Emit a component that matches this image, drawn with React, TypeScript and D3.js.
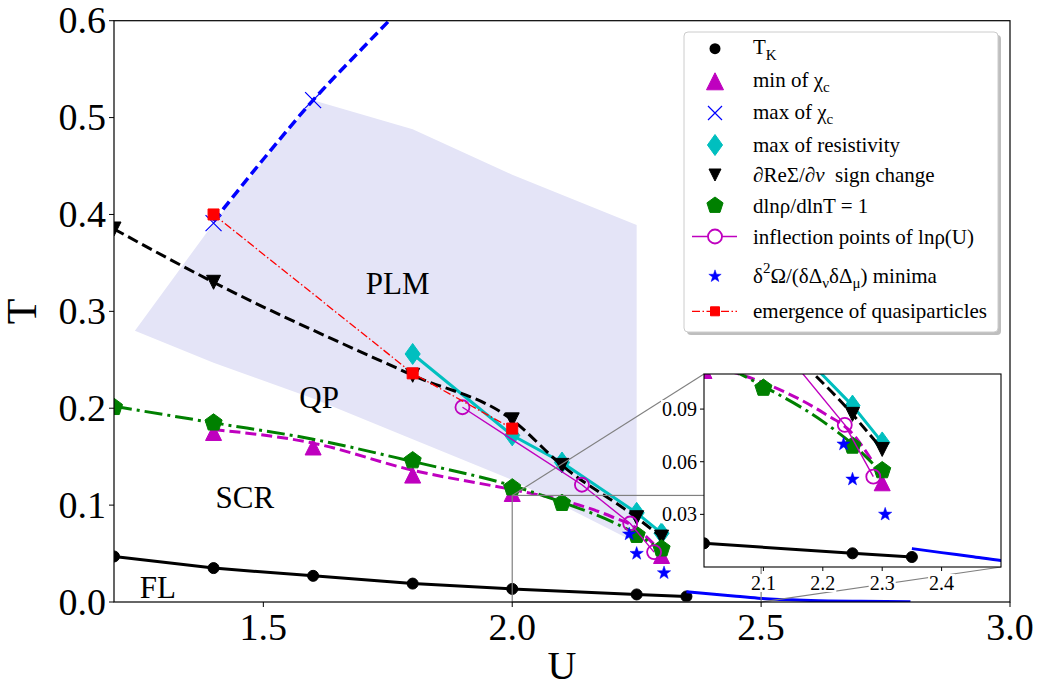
import React from 'react';
import * as d3 from 'd3';

// ---------------- data ----------------
// Kondo temperature T_K
const U_TK = [1.2, 1.4, 1.6, 1.8, 2.0, 2.25, 2.35];
const T_TK = [0.047, 0.035, 0.027, 0.019, 0.0135, 0.0078, 0.0057];
// continuation of T_K (blue solid)
const U_TK_HIGH = [2.35, 2.4, 2.45, 2.5, 2.6, 2.7, 2.8];
const T_TK_HIGH = [0.0105, 0.0082, 0.006, 0.0037, 0.0016, 0.0007, 0.0002];
// min of chi_c
const U_MINCHI = [1.4, 1.6, 1.8, 2.0, 2.3];
const T_MINCHI = [0.175, 0.16, 0.131, 0.112, 0.048];
const U_MINCHI_FIT = [1.4, 1.6, 1.8, 2.0, 2.1, 2.2, 2.25, 2.284];
const T_MINCHI_FIT = [0.178, 0.164, 0.136, 0.116, 0.105, 0.088, 0.076, 0.06];
// max of chi_c
const U_MAXCHI = [1.4, 1.6];
const T_MAXCHI = [0.391, 0.518];
const U_MAXCHI_FIT = [1.4, 1.5, 1.6, 1.7, 1.8];
const T_MAXCHI_FIT = [0.393, 0.457, 0.518, 0.572, 0.625];
// max of resistivity
const U_RES = [1.8, 2.0, 2.1, 2.25, 2.3];
const T_RES = [0.256, 0.172, 0.144, 0.092, 0.071];
// dReSigma/dnu sign change
const U_RESIG = [1.2, 1.4, 1.8, 2.0, 2.1, 2.25, 2.3];
const T_RESIG = [0.385, 0.33, 0.234, 0.188, 0.141, 0.087, 0.067];
// dln rho / dln T = 1
const U_DLN = [1.2, 1.4, 1.8, 2.0, 2.1, 2.25, 2.3];
const T_DLN = [0.201, 0.185, 0.146, 0.118, 0.102, 0.069, 0.055];
const U_DLN_FIT = [1.2, 1.4, 1.6, 1.8, 2.0, 2.1, 2.2, 2.25, 2.284];
const T_DLN_FIT = [0.202, 0.185, 0.168, 0.145, 0.12, 0.103, 0.083, 0.07, 0.059];
// inflection points of ln rho(U)
const U_INFL = [1.9, 2.14, 2.237, 2.285];
const T_INFL = [0.201, 0.121, 0.081, 0.0515];
// second derivative of Omega minima
const U_STAR = [2.235, 2.25, 2.305];
const T_STAR = [0.07, 0.05, 0.03];
// emergence of quasiparticles
const U_QP = [1.4, 1.8, 2.0];
const T_QP = [0.4, 0.236, 0.179];
// PLM shaded region outline
const U_PLM = [1.4, 1.6, 1.8, 2.0, 2.25, 2.25, 2.0, 1.8, 1.6, 1.4, 1.242];
const T_PLM = [0.391, 0.518, 0.488, 0.441, 0.389, 0.061, 0.126, 0.168, 0.21, 0.247, 0.28];
// region labels
const REGION_NAMES = ['PLM', 'QP', 'SCR', 'FL'];
const REGION_U = [1.77, 1.612, 1.463, 1.288];
const REGION_T = [0.318, 0.2, 0.097, 0.004];
// ticks
const X_TICKS = [1.5, 2.0, 2.5, 3.0];
const Y_TICKS = [0, 0.1, 0.2, 0.3, 0.4, 0.5, 0.6];
const X_TICKS_IN = [2.1, 2.2, 2.3, 2.4];
const Y_TICKS_IN = [0.03, 0.06, 0.09];

// ---------------- layout ----------------
const W = 1044;
const H = 688;
const FONT = '"Liberation Serif", "Times New Roman", Times, serif';
const M = { left: 114, right: 1010, top: 20.7, bottom: 602 };
const INS = { left: 704, right: 1001, top: 374, bottom: 567 };

const MAG = '#bf00bf';
const CYA = '#00bfbf';
const GRN = '#008000';
const BLU = '#0000ff';
const RED = '#ff0000';

type Scale = d3.ScaleLinear<number, number>;

function markerPath(kind: string, s: number): string {
  const h = s / 2;
  switch (kind) {
    case 'o':
      return `M${h},0A${h},${h} 0 1,1 ${-h},0A${h},${h} 0 1,1 ${h},0Z`;
    case '^':
      return `M0,${-h}L${h},${h}L${-h},${h}Z`;
    case 'v':
      return `M0,${h}L${h},${-h}L${-h},${-h}Z`;
    case 'd':
      return `M0,${-h}L${0.36 * s},0L0,${h}L${-0.36 * s},0Z`;
    case 'p': {
      const pts = d3.range(5).map((k) => {
        const a = ((-90 + k * 72) * Math.PI) / 180;
        return [h * Math.cos(a), h * Math.sin(a)];
      });
      return 'M' + pts.map((p) => p.join(',')).join('L') + 'Z';
    }
    case '*': {
      const pts = d3.range(10).map((k) => {
        const a = ((-90 + k * 36) * Math.PI) / 180;
        const r = k % 2 === 0 ? h : h * 0.4;
        return [r * Math.cos(a), r * Math.sin(a)];
      });
      return 'M' + pts.map((p) => p.join(',')).join('L') + 'Z';
    }
    case 's':
      return `M${-h},${-h}H${h}V${h}H${-h}Z`;
    case 'x':
      return `M${-h},${-h}L${h},${h}M${-h},${h}L${h},${-h}`;
    default:
      return '';
  }
}

function linePath(U: number[], T: number[], xs: Scale, ys: Scale, curve: d3.CurveFactory = d3.curveLinear) {
  return (
    d3
      .line<[number, number]>()
      .x((d) => xs(d[0]))
      .y((d) => ys(d[1]))
      .curve(curve)(U.map((u, i) => [u, T[i]] as [number, number])) || ''
  );
}

type MarkProps = {
  U: number[];
  T: number[];
  xs: Scale;
  ys: Scale;
  kind: string;
  size: number;
  fill: string;
  stroke: string;
  sw?: number;
};

function Markers({ U, T, xs, ys, kind, size, fill, stroke, sw = 1 }: MarkProps) {
  const d = markerPath(kind, size);
  return (
    <g>
      {U.map((u, i) => (
        <path key={i} d={d} transform={`translate(${xs(u)},${ys(T[i])})`} fill={fill} stroke={stroke} strokeWidth={sw} />
      ))}
    </g>
  );
}

function Content({ xs, ys }: { xs: Scale; ys: Scale }) {
  const smooth = d3.curveMonotoneX;
  return (
    <g>
      {/* T_K */}
      <path d={linePath(U_TK, T_TK, xs, ys)} fill="none" stroke="#000" strokeWidth={3} />
      <Markers U={U_TK} T={T_TK} xs={xs} ys={ys} kind="o" size={11} fill="#000" stroke="#000" />
      <path d={linePath(U_TK_HIGH, T_TK_HIGH, xs, ys, smooth)} fill="none" stroke={BLU} strokeWidth={3} />
      {/* min chi_c */}
      <path d={linePath(U_MINCHI_FIT, T_MINCHI_FIT, xs, ys, smooth)} fill="none" stroke={MAG} strokeWidth={3} strokeDasharray="11,5" />
      <Markers U={U_MINCHI} T={T_MINCHI} xs={xs} ys={ys} kind="^" size={16} fill={MAG} stroke={MAG} />
      {/* max chi_c */}
      <path d={linePath(U_MAXCHI_FIT, T_MAXCHI_FIT, xs, ys, smooth)} fill="none" stroke={BLU} strokeWidth={3.5} strokeDasharray="10,5" />
      <Markers U={U_MAXCHI} T={T_MAXCHI} xs={xs} ys={ys} kind="x" size={16} fill="none" stroke={BLU} sw={1.2} />
      {/* max resistivity */}
      <path d={linePath(U_RES, T_RES, xs, ys)} fill="none" stroke={CYA} strokeWidth={3} />
      <Markers U={U_RES} T={T_RES} xs={xs} ys={ys} kind="d" size={21} fill={CYA} stroke={CYA} />
      {/* ReSigma */}
      <path d={linePath(U_RESIG, T_RESIG, xs, ys, smooth)} fill="none" stroke="#000" strokeWidth={3} strokeDasharray="11,5" />
      <Markers U={U_RESIG} T={T_RESIG} xs={xs} ys={ys} kind="v" size={14} fill="#000" stroke="#000" />
      {/* dln rho / dln T */}
      <path d={linePath(U_DLN_FIT, T_DLN_FIT, xs, ys, smooth)} fill="none" stroke={GRN} strokeWidth={3} strokeDasharray="18,5,3,5" />
      <Markers U={U_DLN} T={T_DLN} xs={xs} ys={ys} kind="p" size={18} fill={GRN} stroke={GRN} />
      {/* inflection */}
      <path d={linePath(U_INFL, T_INFL, xs, ys)} fill="none" stroke={MAG} strokeWidth={1.4} />
      <Markers U={U_INFL} T={T_INFL} xs={xs} ys={ys} kind="o" size={14} fill="none" stroke={MAG} sw={1.8} />
      {/* stars */}
      <Markers U={U_STAR} T={T_STAR} xs={xs} ys={ys} kind="*" size={14} fill={BLU} stroke={BLU} sw={0.5} />
      {/* emergence of quasiparticles */}
      <path d={linePath(U_QP, T_QP, xs, ys)} fill="none" stroke={RED} strokeWidth={1.3} strokeDasharray="8,2.5,1.5,2.5" />
      <Markers U={U_QP} T={T_QP} xs={xs} ys={ys} kind="s" size={11} fill={RED} stroke={RED} />
    </g>
  );
}

function textWidth(s: string, fs: number) {
  let w = 0;
  for (const c of s) w += c === '.' ? 0.25 : 0.5;
  return w * fs;
}

function Legend() {
  const left = 684;
  const top = 32;
  const right = 998;
  const bottom = 332;
  const mx = 715;
  const tx = 753;
  const fs = 21;
  const sub = 15;
  const rows = [48.7, 81.3, 113, 145, 175, 205.5, 236.5, 276.3, 311.3];
  const base = (r: number) => r + 7;
  return (
    <g fontFamily={FONT} fontSize={fs} fill="#000">
      <rect x={left + 3} y={top + 3} width={right - left} height={bottom - top} rx={4} fill="#888" opacity={0.55} />
      <rect x={left} y={top} width={right - left} height={bottom - top} rx={4} fill="#fff" stroke="#cccccc" strokeWidth={1} />
      {/* handles */}
      <path d={markerPath('o', 11)} transform={`translate(${mx},${rows[0]})`} fill="#000" />
      <path d={markerPath('^', 17)} transform={`translate(${mx},${rows[1]})`} fill={MAG} stroke={MAG} />
      <path d={markerPath('x', 14)} transform={`translate(${mx},${rows[2]})`} fill="none" stroke={BLU} strokeWidth={1.2} />
      <path d={markerPath('d', 21)} transform={`translate(${mx},${rows[3]})`} fill={CYA} stroke={CYA} />
      <path d={markerPath('v', 12)} transform={`translate(${mx},${rows[4]})`} fill="#000" stroke="#000" />
      <path d={markerPath('p', 17)} transform={`translate(${mx},${rows[5]})`} fill={GRN} stroke={GRN} />
      <line x1={692} x2={737} y1={rows[6]} y2={rows[6]} stroke={MAG} strokeWidth={1.4} />
      <path d={markerPath('o', 14)} transform={`translate(${mx},${rows[6]})`} fill="#fff" stroke={MAG} strokeWidth={1.8} />
      <path d={markerPath('*', 13)} transform={`translate(${mx},${rows[7]})`} fill={BLU} stroke={BLU} strokeWidth={0.5} />
      <line x1={692} x2={737} y1={rows[8]} y2={rows[8]} stroke={RED} strokeWidth={1.3} strokeDasharray="8,2.5,1.5,2.5" />
      <path d={markerPath('s', 9)} transform={`translate(${mx},${rows[8]})`} fill={RED} stroke={RED} />
      {/* labels */}
      <text x={tx} y={base(rows[0]) - 2}>
        T<tspan fontSize={sub} dy={6}>K</tspan>
      </text>
      <text x={tx} y={base(rows[1]) - 1}>
        min of χ<tspan fontSize={sub} dy={5}>c</tspan>
      </text>
      <text x={tx} y={base(rows[2]) - 1}>
        max of χ<tspan fontSize={sub} dy={5}>c</tspan>
      </text>
      <text x={tx} y={base(rows[3])}>max of resistivity</text>
      <text x={tx} y={base(rows[4])}>
        ∂ReΣ/∂<tspan fontStyle="italic">ν</tspan>{'\u00a0\u00a0'}sign change
      </text>
      <text x={tx} y={base(rows[5])}>dlnρ/dlnT = 1</text>
      <text x={tx} y={base(rows[6])}>inflection points of lnρ(U)</text>
      <text x={tx} y={base(rows[7])}>
        δ<tspan fontSize={sub} dy={-10}>2</tspan>
        <tspan dy={10}>Ω/(δΔ</tspan>
        <tspan fontSize={sub} dy={5}>ν</tspan>
        <tspan dy={-5}>δΔ</tspan>
        <tspan fontSize={sub} dy={5}>μ</tspan>
        <tspan dy={-5}>) minima</tspan>
      </text>
      <text x={tx} y={base(rows[8])}>emergence of quasiparticles</text>
    </g>
  );
}

export default function App() {
  const x = d3.scaleLinear().domain([1.2, 3.0]).range([M.left, M.right]);
  const y = d3.scaleLinear().domain([0, 0.6]).range([M.bottom, M.top]);
  const xi = d3.scaleLinear().domain([2.0, 2.5]).range([INS.left, INS.right]);
  const yi = d3.scaleLinear().domain([0, 0.11]).range([INS.bottom, INS.top]);
  const f1 = d3.format('.1f');
  const f2 = d3.format('.2f');
  const plmPoly = U_PLM.map((u, i) => `${x(u)},${y(T_PLM[i])}`).join(' ');
  const tickFs = 38;
  const inFs = 20;

  return (
    <svg
      width={W}
      height={H}
      viewBox={`0 0 ${W} ${H}`}
      style={{ position: 'absolute', left: 0, top: 0, background: '#fff', display: 'block' }}
      fontFamily={FONT}
    >
      <defs>
        <clipPath id="mainClip">
          <rect x={M.left} y={M.top} width={M.right - M.left} height={M.bottom - M.top} />
        </clipPath>
        <clipPath id="insClip">
          <rect x={INS.left} y={INS.top} width={INS.right - INS.left} height={INS.bottom - INS.top} />
        </clipPath>
      </defs>
      <rect x={0} y={0} width={W} height={H} fill="#fff" />

      {/* main plot */}
      <g clipPath="url(#mainClip)">
        <polygon points={plmPoly} fill="#e4e4f7" stroke="none" />
        {REGION_NAMES.map((n, i) => (
          <text key={n} x={x(REGION_U[i])} y={y(REGION_T[i])} fontSize={31} textAnchor="middle" fill="#000">
            {n}
          </text>
        ))}
        <Content xs={x} ys={y} />
      </g>

      {/* inset indicator + connectors */}
      <rect x={x(2.0)} y={y(0.11)} width={x(2.5) - x(2.0)} height={y(0) - y(0.11)} fill="none" stroke="#808080" strokeWidth={1.2} />
      <line x1={x(2.0)} y1={y(0.11)} x2={INS.left} y2={INS.top} stroke="#808080" strokeWidth={1.1} />
      <line x1={x(2.5)} y1={y(0)} x2={INS.right} y2={INS.bottom} stroke="#808080" strokeWidth={1.1} />

      {/* main axes frame */}
      <rect x={M.left} y={M.top} width={M.right - M.left} height={M.bottom - M.top} fill="none" stroke="#000" strokeWidth={1.2} />
      {X_TICKS.map((t) => (
        <g key={'xt' + t}>
          <line x1={x(t)} x2={x(t)} y1={M.bottom} y2={M.bottom + 5} stroke="#000" strokeWidth={1} />
          <text x={x(t)} y={640} fontSize={tickFs} textAnchor="middle">
            {f1(t)}
          </text>
        </g>
      ))}
      {Y_TICKS.map((t) => (
        <g key={'yt' + t}>
          <line x1={M.left - 5} x2={M.left} y1={y(t)} y2={y(t)} stroke="#000" strokeWidth={1} />
          <text x={106} y={y(t) + 12.5} fontSize={tickFs} textAnchor="end">
            {f1(t)}
          </text>
        </g>
      ))}
      <text x={(M.left + M.right) / 2} y={679} fontSize={40} textAnchor="middle">
        U
      </text>
      <text transform={`translate(36,${(M.top + M.bottom) / 2}) rotate(-90)`} fontSize={42} textAnchor="middle">
        T
      </text>

      {/* inset */}
      <rect x={INS.left} y={INS.top} width={INS.right - INS.left} height={INS.bottom - INS.top} fill="#fff" />
      <g clipPath="url(#insClip)">
        <Content xs={xi} ys={yi} />
      </g>
      <rect x={INS.left} y={INS.top} width={INS.right - INS.left} height={INS.bottom - INS.top} fill="none" stroke="#000" strokeWidth={1.1} />
      {X_TICKS_IN.map((t) => {
        const lab = f1(t);
        const w = textWidth(lab, inFs);
        return (
          <g key={'xi' + t}>
            <line x1={xi(t)} x2={xi(t)} y1={INS.bottom} y2={INS.bottom + 4} stroke="#000" strokeWidth={1} />
            <rect x={xi(t) - w / 2 - 1} y={574} width={w + 2} height={18} fill="#fff" />
            <text x={xi(t)} y={590} fontSize={inFs} textAnchor="middle">
              {lab}
            </text>
          </g>
        );
      })}
      {Y_TICKS_IN.map((t) => {
        const lab = f2(t);
        const w = textWidth(lab, inFs);
        return (
          <g key={'yi' + t}>
            <line x1={INS.left - 4} x2={INS.left} y1={yi(t)} y2={yi(t)} stroke="#000" strokeWidth={1} />
            <rect x={697 - w - 1} y={yi(t) - 9} width={w + 2} height={18} fill="#fff" />
            <text x={697} y={yi(t) + 7} fontSize={inFs} textAnchor="end">
              {lab}
            </text>
          </g>
        );
      })}

      <Legend />
    </svg>
  );
}
